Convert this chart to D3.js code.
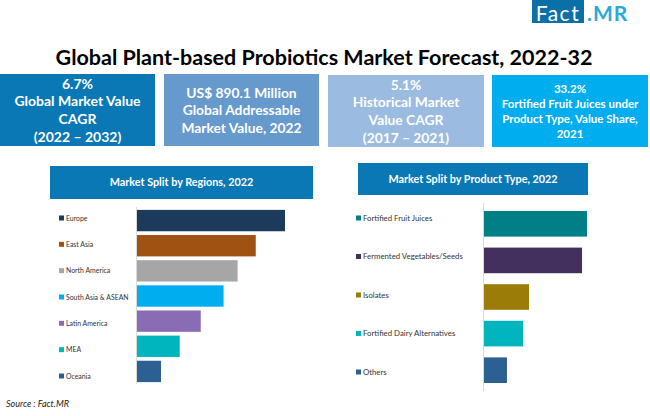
<!DOCTYPE html>
<html>
<head>
<meta charset="utf-8">
<script src="https://cdn.jsdelivr.net/npm/d3@7"></script>
<style>
    html, body { margin: 0; padding: 0; background: #fff; }
    svg { display: block; font-family: Lato, "Open Sans", sans-serif; }
</style>
</head>
<body>
<svg id="chart" width="650" height="416"></svg>
<script>
const regions = ['Europe', 'East Asia', 'North America', 'South Asia & ASEAN', 'Latin America', 'MEA', 'Oceania'];
const regionValues = [25.3, 20.3, 17.2, 14.8, 10.9, 7.3, 4.1];
const regionColors = ['#1b3a5c', '#a05212', '#a6a6a6', '#00aeef', '#8a6cb4', '#00b5bd', '#2c5f92'];

const products = ['Fortified Fruit Juices', 'Fermented Vegetables/Seeds', 'Isolates', 'Fortified Dairy Alternatives', 'Others'];
const productValues = [33.2, 31.6, 14.5, 12.6, 7.4];
const productColors = ['#007f86', '#43305f', '#9c7c08', '#00b5bd', '#2c5f92'];

const titleText = 'Global Plant-based Probiotics Market Forecast, 2022-32';
const tileLines = [
    ['6.7%', 'Global Market Value', 'CAGR', '(2022 – 2032)'],
    ['US$ 890.1 Million', 'Global Addressable', 'Market Value, 2022'],
    ['5.1%', 'Historical Market', 'Value CAGR', '(2017 – 2021)'],
    ['33.2%', 'Fortified Fruit Juices under', 'Product Type, Value Share,', '2021']
];

const svg = d3.select('#chart');

svg.append('rect').attr('x', 532).attr('y', 0).attr('width', 52).attr('height', 23).attr('fill', '#0b6fa8');
svg.append('text').attr('x', 558).attr('y', 21).attr('text-anchor', 'middle')
    .attr('font-size', 21).attr('letter-spacing', 1.5).attr('fill', '#fff').text('Fact');
svg.append('text').attr('x', 587).attr('y', 21)
    .attr('font-size', 21).attr('letter-spacing', 1).attr('font-weight', 700).attr('fill', '#2aa9d8').text('.MR');

svg.append('text').attr('x', 324).attr('y', 65).attr('text-anchor', 'middle')
    .attr('font-size', 21.5).attr('font-weight', 700).attr('fill', '#000').text(titleText);

const tiles = [
    {x: 0, y: 74, w: 155, fill: '#0a78b4', size: 14, top: 88.5, step: 17.8},
    {x: 164, y: 74, w: 155, fill: '#6699cc', size: 13.8, top: 97.5, step: 17.8},
    {x: 328, y: 75, w: 156, fill: '#9bbbe0', size: 13.8, top: 89.5, step: 17.8},
    {x: 492, y: 75, w: 156, fill: '#00aeef', size: 11.5, top: 93, step: 15}
];
tiles.forEach((t, i) => {
    svg.append('rect').attr('x', t.x).attr('y', t.y).attr('width', t.w).attr('height', 72).attr('fill', t.fill);
    svg.append('g').selectAll('text').data(tileLines[i]).join('text')
        .attr('x', t.x + t.w / 2)
        .attr('y', (d, j) => t.top + j * t.step)
        .attr('text-anchor', 'middle')
        .attr('font-size', t.size)
        .attr('font-weight', 700)
        .attr('fill', '#fff')
        .text(d => d);
});

function drawPanel(cfg) {
    svg.append('rect').attr('x', cfg.bannerX).attr('y', cfg.bannerY)
        .attr('width', cfg.bannerW).attr('height', cfg.bannerH).attr('fill', '#0a78b4');
    svg.append('text').attr('x', cfg.bannerX + cfg.bannerW / 2).attr('y', cfg.bannerY + cfg.bannerH / 2 + 3.5)
        .attr('text-anchor', 'middle').attr('font-size', 10.8).attr('font-weight', 700)
        .attr('fill', '#fff').text(cfg.title);

    const x = d3.scaleLinear().domain([0, cfg.maxValue]).range([cfg.x0, cfg.x1]);
    const y = d3.scaleBand().domain(cfg.names).range(cfg.barRange)
        .paddingInner(cfg.padInner).paddingOuter(cfg.padInner / 2);
    const legendY = d3.scalePoint().domain(cfg.names).range(cfg.legendRange);

    svg.append('line').attr('x1', cfg.x0 - 0.5).attr('x2', cfg.x0 - 0.5)
        .attr('y1', cfg.axisRange[0]).attr('y2', cfg.axisRange[1]).attr('stroke', '#d9d9d9');

    svg.append('g').selectAll('rect').data(cfg.names).join('rect')
        .attr('x', cfg.x0)
        .attr('y', d => y(d))
        .attr('width', (d, i) => x(cfg.values[i]) - cfg.x0)
        .attr('height', y.bandwidth())
        .attr('fill', (d, i) => cfg.colors[i]);

    const legend = svg.append('g').selectAll('g').data(cfg.names).join('g')
        .attr('transform', d => `translate(${cfg.legendX},${legendY(d)})`);
    legend.append('rect').attr('x', 0).attr('y', -2.5).attr('width', 5).attr('height', 5)
        .attr('fill', (d, i) => cfg.colors[i]);
    legend.append('text').attr('x', 7).attr('y', 2.5)
        .attr('font-size', cfg.legendSize).attr('fill', '#333').text(d => d);
}

drawPanel({
    title: 'Market Split by Regions, 2022',
    bannerX: 50, bannerY: 166, bannerW: 263, bannerH: 33,
    names: regions, values: regionValues, colors: regionColors,
    maxValue: 25.3, x0: 137, x1: 285,
    barRange: [208, 384], padInner: 0.15,
    legendX: 59, legendRange: [218, 376], legendSize: 6.9,
    axisRange: [207, 384]
});

drawPanel({
    title: 'Market Split by Product Type, 2022',
    bannerX: 358, bannerY: 163, bannerW: 230, bannerH: 32,
    names: products, values: productValues, colors: productColors,
    maxValue: 33.2, x0: 484, x1: 587,
    barRange: [205.5, 388.5], padInner: 0.3,
    legendX: 356, legendRange: [218, 372], legendSize: 7.8,
    axisRange: [203, 391]
});

svg.append('text').attr('x', 6).attr('y', 407)
    .attr('font-size', 9).attr('font-style', 'italic').attr('fill', '#222').text('Source : Fact.MR');
</script>
</body>
</html>
